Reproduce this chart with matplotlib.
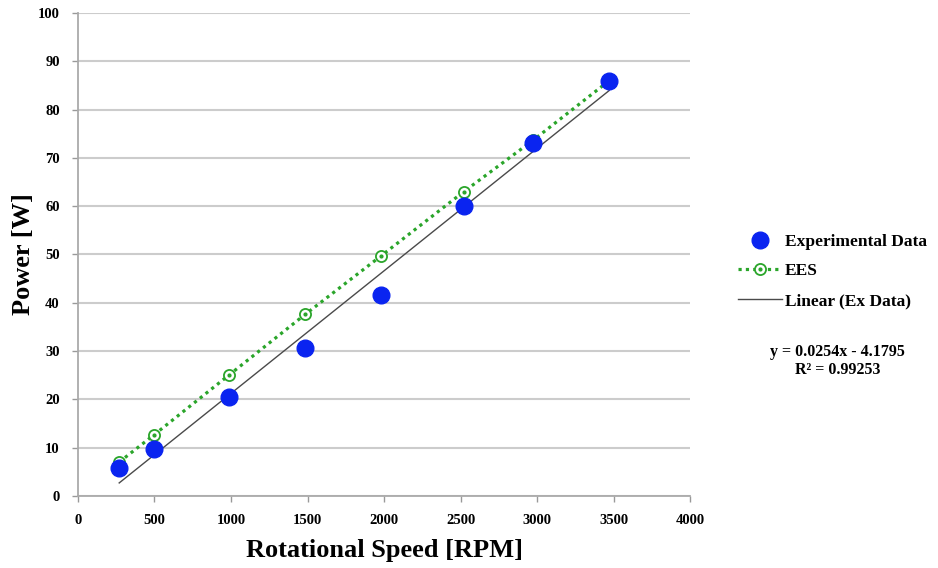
import matplotlib
matplotlib.use("Agg")
import matplotlib.pyplot as plt
import numpy as np

speed_exp = [270, 500, 990, 1485, 1980, 2520, 2975, 3470]
power_exp = [5.7, 9.7, 20.4, 30.6, 41.6, 60.1, 73.1, 85.9]
speed_ees = [270, 500, 990, 1485, 1980, 2520, 2975, 3470]
power_ees = [7.0, 12.7, 25.1, 37.6, 49.7, 63.0, 73.7, 86.0]
slope, intercept = 0.0254, -4.1795
xticks = [0, 500, 1000, 1500, 2000, 2500, 3000, 3500, 4000]
yticks = [0, 10, 20, 30, 40, 50, 60, 70, 80, 90, 100]

plt.rcParams['font.family'] = ['Liberation Serif', 'DejaVu Serif']
plt.rcParams['font.weight'] = 'bold'

fig = plt.figure(figsize=(9.38, 5.68), dpi=100)
ax = fig.add_axes([0.083, 0.127, 0.653, 0.85])

green = '#2aa52a'
blue = '#0a24f0'

ln_ees, = ax.plot(speed_ees, power_ees, linestyle=(0, (1, 1.3)), color=green, linewidth=2.3,
                  marker='o', markersize=8, markerfacecolor='white',
                  markeredgecolor=green, markeredgewidth=1.3, zorder=3)
dots_ees, = ax.plot(speed_ees, power_ees, linestyle='none', marker='o', markersize=2,
                    color=green, zorder=3)
xs = np.array([speed_exp[0], speed_exp[-1]])
ln_fit, = ax.plot(xs, slope * xs + intercept, color='#4a4a4a', linewidth=1.0, zorder=4)
sc_exp, = ax.plot(speed_exp, power_exp, linestyle='none', marker='o', markersize=12,
                  color=blue, zorder=5)

ax.set_xlim(0, 4000)
ax.set_ylim(0, 100)
ax.set_xticks(xticks)
ax.set_yticks(yticks)
ax.tick_params(labelsize=10.5, length=4, color='#999999', width=1)
ax.tick_params(axis='y', pad=9)
ax.tick_params(axis='x', pad=9)
for lab in ax.get_xticklabels() + ax.get_yticklabels():
    lab.set_fontweight('bold')
ax.yaxis.grid(True, color='#cccccc', linewidth=1.5)
ax.set_axisbelow(True)
for s in ['top', 'right']:
    ax.spines[s].set_visible(False)
for s in ['left', 'bottom']:
    ax.spines[s].set_color('#aaaaaa')
    ax.spines[s].set_linewidth(1.3)

ax.set_xlabel('Rotational Speed [RPM]', fontsize=19, fontweight='bold', labelpad=9)
ax.set_ylabel('Power [W]', fontsize=19, fontweight='bold', labelpad=2)

from matplotlib.legend_handler import HandlerTuple
leg = fig.legend([sc_exp, (ln_ees, dots_ees), ln_fit],
                 ['Experimental Data', 'EES', 'Linear (Ex Data)'],
                 handler_map={tuple: HandlerTuple(ndivide=1, pad=0)},
                 loc='upper left', bbox_to_anchor=(0.787, 0.589), frameon=False,
                 prop={'size': 12.5, 'weight': 'bold'}, handlelength=2.5,
                 labelspacing=0.78, handletextpad=0.17, borderpad=0, borderaxespad=0)

fig.text(0.893, 0.365, 'y = 0.0254x - 4.1795\nR² = 0.99253', ha='center', va='center',
         fontsize=11.5, fontweight='bold', linespacing=1.15)

fig.savefig('out.png', dpi=100)
